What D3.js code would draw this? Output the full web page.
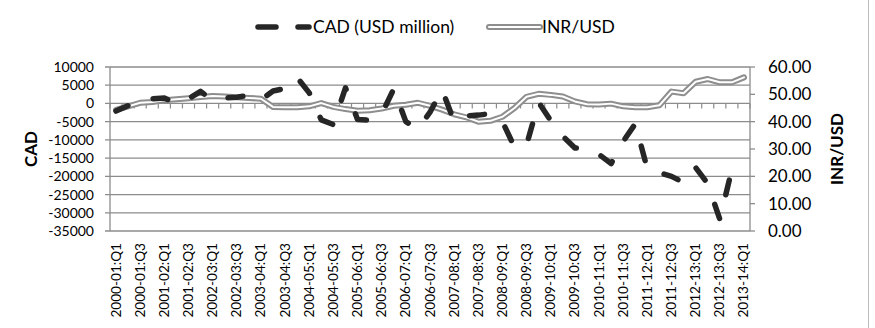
<!DOCTYPE html>
<html>
<head>
<meta charset="utf-8">
<script src="https://cdn.jsdelivr.net/npm/d3@7"></script>
<style>
  body { margin: 0; background: #fff; }
  svg text { font-family: Lato, "Open Sans", sans-serif; fill: #000; }
</style>
</head>
<body>
<svg width="875" height="328"></svg>
<script>
const quarters = [
  '2000-01:Q1','2000-01:Q2','2000-01:Q3','2000-01:Q4',
  '2001-02:Q1','2001-02:Q2','2001-02:Q3','2001-02:Q4',
  '2002-03:Q1','2002-03:Q2','2002-03:Q3','2002-03:Q4',
  '2003-04:Q1','2003-04:Q2','2003-04:Q3','2003-04:Q4',
  '2004-05:Q1','2004-05:Q2','2004-05:Q3','2004-05:Q4',
  '2005-06:Q1','2005-06:Q2','2005-06:Q3','2005-06:Q4',
  '2006-07:Q1','2006-07:Q2','2006-07:Q3','2006-07:Q4',
  '2007-08:Q1','2007-08:Q2','2007-08:Q3','2007-08:Q4',
  '2008-09:Q1','2008-09:Q2','2008-09:Q3','2008-09:Q4',
  '2009-10:Q1','2009-10:Q2','2009-10:Q3','2009-10:Q4',
  '2010-11:Q1','2010-11:Q2','2010-11:Q3','2010-11:Q4',
  '2011-12:Q1','2011-12:Q2','2011-12:Q3','2011-12:Q4',
  '2012-13:Q1','2012-13:Q2','2012-13:Q3','2012-13:Q4',
  '2013-14:Q1'
];

// current account deficit, USD million
const cad = [
  -2100, -600, 200, 1300, 1500, 0, 1300, 3300,
  800, 1500, 1700, 2200, 1000, 3400, 4100, 7100,
  2900, -4500, -5800, 4300, -4400, -4600, -2900, 4000,
  -5000, -7000, -2400, 3800, -5000, -3400, -3200, -2800,
  -5000, -12000, -11300, 300, -4700, -9000, -12200, -12600,
  -14000, -16500, -10400, -5600, -18000, -19000, -20000, -21700,
  -17600, -22000, -31800, -18100, -20000
];

// rupees per dollar
const inrUsd = [
  44.3, 45.6, 46.9, 47.2, 47.8, 48.2, 48.6, 49.0,
  49.4, 49.2, 48.9, 48.7, 48.4, 45.4, 45.3, 45.3,
  45.6, 46.8, 45.4, 44.6, 44.0, 44.2, 44.8, 45.8,
  46.2, 46.9, 45.8, 44.4, 42.7, 41.6, 40.0, 40.3,
  41.8, 45.0, 49.1, 50.2, 49.8, 49.2, 47.4, 46.4,
  46.3, 46.6, 45.6, 45.3, 45.3, 46.0, 51.0, 50.4,
  54.6, 55.6, 54.4, 54.4, 56.2
];

const cadTicks = [10000, 5000, 0, -5000, -10000, -15000, -20000, -25000, -30000, -35000];
const inrTicks = [0, 10, 20, 30, 40, 50, 60];

const svg = d3.select('svg');
const plotL = 110, plotR = 750, plotT = 67, plotB = 231;

const x = d3.scalePoint().domain(quarters).range([plotL, plotR]).padding(0.5);
const band = d3.scaleBand().domain(quarters).range([plotL, plotR]);
const yL = d3.scaleLinear().domain([-35000, 10000]).range([plotB, plotT]);
const yR = d3.scaleLinear().domain([0, 60]).range([plotB, plotT]);

// chart border on the right
svg.append('line')
  .attr('x1', 868.5).attr('x2', 868.5).attr('y1', 0).attr('y2', 328)
  .attr('stroke', '#bdbdbd').attr('stroke-width', 1);

// gridlines
svg.append('g').selectAll('line')
  .data(cadTicks)
  .enter().append('line')
  .attr('x1', plotL - 5).attr('x2', plotR)
  .attr('y1', d => yL(d)).attr('y2', d => yL(d))
  .attr('stroke', '#8c8c8c').attr('stroke-width', 1.3);

// axis lines
svg.append('line').attr('x1', plotL).attr('x2', plotL).attr('y1', plotT).attr('y2', plotB)
  .attr('stroke', '#8c8c8c').attr('stroke-width', 1.3);
svg.append('line').attr('x1', plotR).attr('x2', plotR).attr('y1', plotT).attr('y2', plotB)
  .attr('stroke', '#8c8c8c').attr('stroke-width', 1.3);

svg.append('g').selectAll('line')
  .data(inrTicks)
  .enter().append('line')
  .attr('x1', plotR).attr('x2', plotR + 5)
  .attr('y1', d => yR(d)).attr('y2', d => yR(d))
  .attr('stroke', '#8c8c8c').attr('stroke-width', 1.3);

// category ticks on the zero line
svg.append('g').selectAll('line')
  .data(quarters.concat(['end']))
  .enter().append('line')
  .attr('x1', (d, i) => plotL + i * band.step()).attr('x2', (d, i) => plotL + i * band.step())
  .attr('y1', yL(0)).attr('y2', yL(0) + 5)
  .attr('stroke', '#8c8c8c').attr('stroke-width', 1.2);

// left labels
svg.append('g').selectAll('text')
  .data(cadTicks)
  .enter().append('text')
  .attr('x', 94).attr('y', d => yL(d) + 5)
  .attr('text-anchor', 'end')
  .style('font-size', '14px')
  .text(d => d);

// right labels
svg.append('g').selectAll('text')
  .data(inrTicks)
  .enter().append('text')
  .attr('x', 768).attr('y', d => yR(d) + 6)
  .style('font-size', '17px')
  .text(d => d.toFixed(2));

// category labels
svg.append('g').selectAll('text')
  .data(quarters.filter((d, i) => i % 2 === 0))
  .enter().append('text')
  .attr('transform', d => `translate(${x(d) + 4.5}, 243) rotate(-90)`)
  .attr('text-anchor', 'end')
  .style('font-size', '13.6px')
  .text(d => d);

// axis titles
svg.append('text')
  .attr('transform', `translate(37, ${(plotT + plotB) / 2}) rotate(-90)`)
  .attr('text-anchor', 'middle')
  .style('font-size', '17px').style('font-weight', 'bold')
  .text('CAD');
svg.append('text')
  .attr('transform', `translate(843, ${(plotT + plotB) / 2}) rotate(-90)`)
  .attr('text-anchor', 'middle')
  .style('font-size', '17px').style('font-weight', 'bold')
  .text('INR/USD');

// INR/USD double line
const lineR = d3.line().x((d, i) => x(quarters[i])).y(d => yR(d));
svg.append('path').datum(inrUsd)
  .attr('d', lineR).attr('fill', 'none')
  .attr('stroke', '#8e8e8e').attr('stroke-width', 6).attr('stroke-linejoin', 'round').attr('stroke-linecap', 'round');
svg.append('path').datum(inrUsd)
  .attr('d', lineR).attr('fill', 'none')
  .attr('stroke', '#fff').attr('stroke-width', 2).attr('stroke-linejoin', 'round').attr('stroke-linecap', 'round');

// CAD dashed line
const lineL = d3.line().x((d, i) => x(quarters[i])).y(d => yL(d));
svg.append('path').datum(cad)
  .attr('d', lineL).attr('fill', 'none')
  .attr('stroke', '#262626').attr('stroke-width', 5.5)
  .attr('stroke-dasharray', '15,26.2')
  .attr('stroke-dashoffset', 2)
  .attr('stroke-linecap', 'round').attr('stroke-linejoin', 'round');

// legend
const legend = svg.append('g');
legend.append('line')
  .attr('x1', 258).attr('x2', 309).attr('y1', 27).attr('y2', 27)
  .attr('stroke', '#262626').attr('stroke-width', 5.5)
  .attr('stroke-dasharray', '18,22').attr('stroke-linecap', 'round');
legend.append('text').attr('x', 313).attr('y', 33).style('font-size', '17.5px').text('CAD (USD million)');
legend.append('line')
  .attr('x1', 489).attr('x2', 540).attr('y1', 27).attr('y2', 27)
  .attr('stroke', '#8e8e8e').attr('stroke-width', 6).attr('stroke-linecap', 'round');
legend.append('line')
  .attr('x1', 489).attr('x2', 540).attr('y1', 27).attr('y2', 27)
  .attr('stroke', '#fff').attr('stroke-width', 2).attr('stroke-linecap', 'round');
legend.append('text').attr('x', 542).attr('y', 33).style('font-size', '17.5px').text('INR/USD');
</script>
</body>
</html>
